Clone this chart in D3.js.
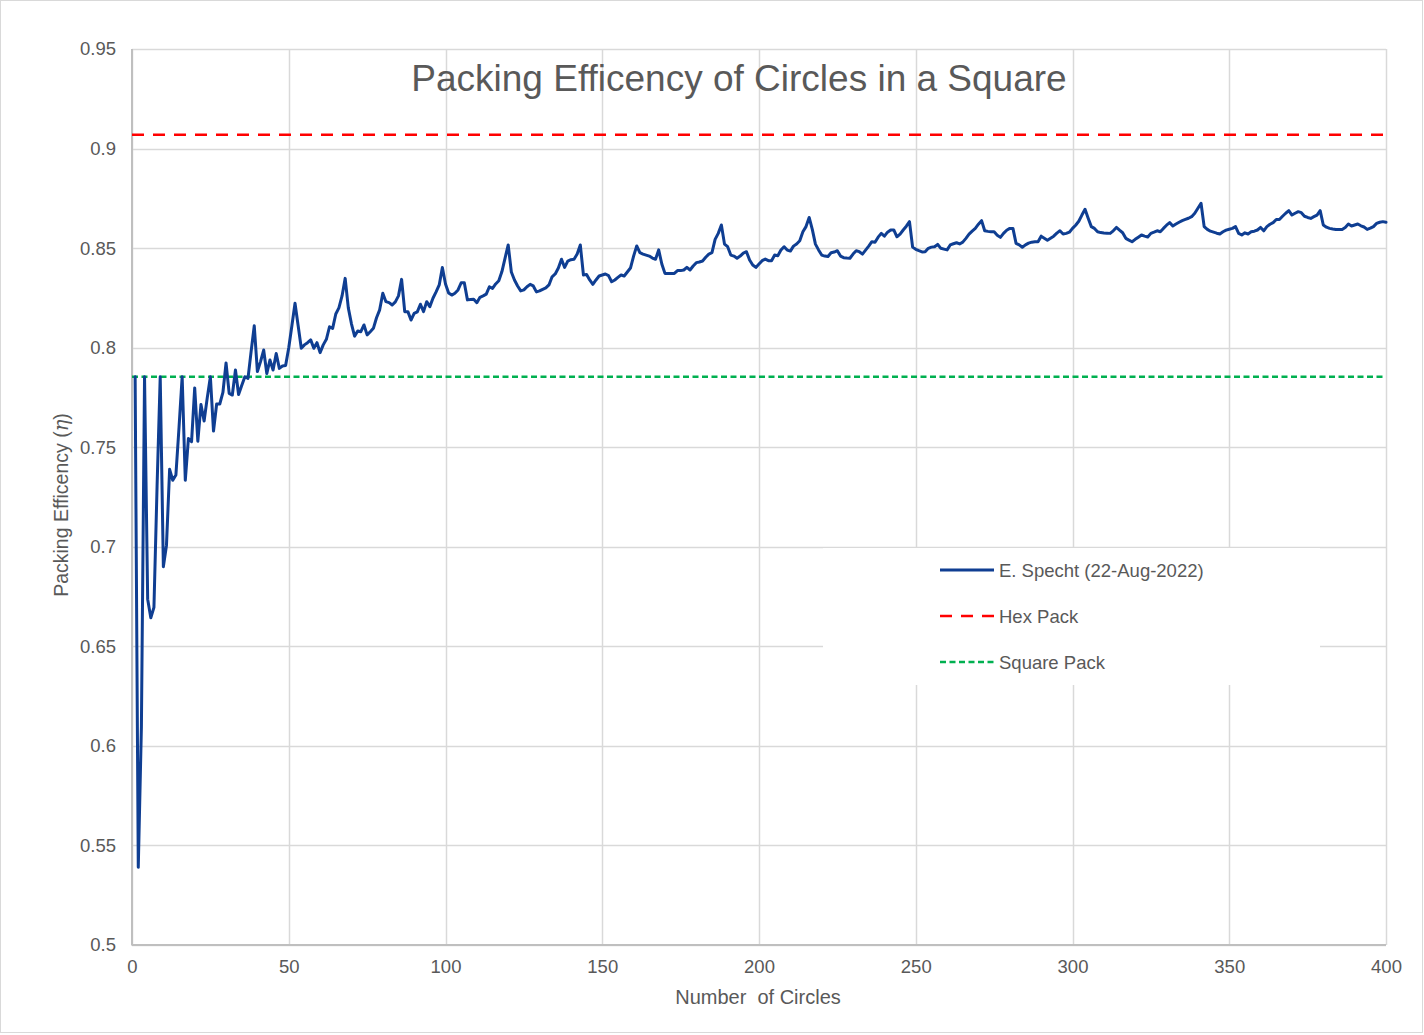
<!DOCTYPE html>
<html>
<head>
<meta charset="utf-8">
<script src="https://cdn.jsdelivr.net/npm/d3@7"></script>
<style>
  html, body { margin: 0; padding: 0; background: #fff; }
  svg { display: block; font-family: "Liberation Sans", Arial, sans-serif; }
</style>
</head>
<body>
<svg id="chart" width="1424" height="1035"></svg>
<script>
// ---- Data ----
const title = "Packing Efficency of Circles in a Square";
const xTitle = "Number  of Circles";
const yTitleMain = "Packing Efficency (";
const yTitleSym = "η";
const seriesNames = ["E. Specht (22-Aug-2022)", "Hex Pack", "Square Pack"];
const xTicks = [0, 50, 100, 150, 200, 250, 300, 350, 400];
const yTicks = [0.5, 0.55, 0.6, 0.65, 0.7, 0.75, 0.8, 0.85, 0.9, 0.95];
const hexPack = 0.9069;
const squarePack = 0.7854;
const circleCounts = d3.range(1, 401);
// packing efficiency for n = 1 .. 400
const specht = [
  0.7854,0.5390,0.6096,0.7854,0.6737,0.6643,0.6696,0.7306,0.7854,0.6900,
  0.7008,0.7389,0.7334,0.7360,0.7600,0.7854,0.7334,0.7544,0.7528,0.7798,
  0.7530,0.7715,0.7632,0.7748,0.7854,0.7581,0.7717,0.7717,0.7775,0.7923,
  0.7770,0.7762,0.7888,0.7765,0.7810,0.7854,0.7846,0.7981,0.8110,0.7880,
  0.7930,0.7988,0.7870,0.7938,0.7888,0.7971,0.7896,0.7908,0.7910,0.8000,
  0.8110,0.8223,0.8110,0.7997,0.8014,0.8025,0.8039,0.7997,0.8025,0.7975,
  0.8014,0.8042,0.8105,0.8097,0.8169,0.8200,0.8260,0.8348,0.8200,0.8120,
  0.8058,0.8084,0.8080,0.8114,0.8064,0.8080,0.8097,0.8150,0.8190,0.8273,
  0.8231,0.8226,0.8214,0.8230,0.8260,0.8343,0.8181,0.8181,0.8139,0.8172,
  0.8180,0.8218,0.8181,0.8231,0.8206,0.8248,0.8280,0.8315,0.8403,0.8320,
  0.8275,0.8264,0.8273,0.8290,0.8326,0.8326,0.8240,0.8242,0.8243,0.8226,
  0.8253,0.8260,0.8269,0.8306,0.8298,0.8320,0.8336,0.8382,0.8450,0.8516,
  0.8380,0.8340,0.8310,0.8285,0.8290,0.8306,0.8318,0.8310,0.8280,0.8285,
  0.8293,0.8300,0.8315,0.8356,0.8370,0.8400,0.8444,0.8403,0.8435,0.8442,
  0.8444,0.8470,0.8516,0.8365,0.8368,0.8340,0.8318,0.8340,0.8360,0.8365,
  0.8370,0.8362,0.8331,0.8340,0.8353,0.8365,0.8360,0.8380,0.8400,0.8460,
  0.8511,0.8477,0.8470,0.8465,0.8460,0.8450,0.8444,0.8491,0.8420,0.8373,
  0.8373,0.8373,0.8373,0.8387,0.8387,0.8390,0.8403,0.8390,0.8410,0.8427,
  0.8430,0.8435,0.8454,0.8470,0.8477,0.8544,0.8574,0.8616,0.8520,0.8507,
  0.8465,0.8460,0.8449,0.8460,0.8475,0.8482,0.8440,0.8415,0.8403,0.8420,
  0.8437,0.8445,0.8437,0.8437,0.8465,0.8462,0.8490,0.8507,0.8490,0.8485,
  0.8510,0.8521,0.8537,0.8582,0.8608,0.8654,0.8594,0.8520,0.8491,0.8465,
  0.8460,0.8458,0.8477,0.8480,0.8487,0.8460,0.8452,0.8450,0.8449,0.8470,
  0.8487,0.8482,0.8470,0.8490,0.8510,0.8532,0.8529,0.8555,0.8574,0.8560,
  0.8580,0.8591,0.8591,0.8557,0.8570,0.8591,0.8610,0.8633,0.8505,0.8494,
  0.8487,0.8481,0.8482,0.8499,0.8505,0.8507,0.8519,0.8499,0.8495,0.8491,
  0.8516,0.8522,0.8527,0.8521,0.8530,0.8549,0.8570,0.8585,0.8599,0.8620,
  0.8638,0.8587,0.8584,0.8582,0.8582,0.8565,0.8554,0.8574,0.8590,0.8599,
  0.8599,0.8524,0.8516,0.8504,0.8516,0.8525,0.8530,0.8532,0.8532,0.8560,
  0.8550,0.8540,0.8550,0.8560,0.8575,0.8587,0.8571,0.8574,0.8580,0.8599,
  0.8615,0.8635,0.8666,0.8695,0.8650,0.8608,0.8599,0.8582,0.8578,0.8576,
  0.8575,0.8574,0.8587,0.8604,0.8590,0.8577,0.8549,0.8540,0.8532,0.8544,
  0.8555,0.8566,0.8560,0.8556,0.8574,0.8580,0.8587,0.8582,0.8599,0.8615,
  0.8628,0.8611,0.8621,0.8630,0.8638,0.8644,0.8650,0.8658,0.8675,0.8700,
  0.8725,0.8608,0.8594,0.8585,0.8580,0.8575,0.8571,0.8582,0.8590,0.8595,
  0.8599,0.8608,0.8574,0.8566,0.8577,0.8571,0.8582,0.8585,0.8591,0.8604,
  0.8587,0.8608,0.8620,0.8628,0.8644,0.8644,0.8660,0.8675,0.8688,0.8666,
  0.8675,0.8683,0.8678,0.8660,0.8654,0.8649,0.8658,0.8666,0.8688,0.8616,
  0.8605,0.8599,0.8596,0.8594,0.8594,0.8594,0.8604,0.8621,0.8611,0.8616,
  0.8621,0.8612,0.8606,0.8594,0.8600,0.8608,0.8624,0.8630,0.8633,0.8630
];

// ---- Layout ----
const W = 1424, H = 1035;
const plot = { left: 132, right: 1386, top: 49, bottom: 945 };
const textColor = "#595959";
const gridColor = "#d9d9d9";
const axisColor = "#bfbfbf";
const blue = "#0f3e92";

const svg = d3.select("#chart");

// outer border
svg.append("rect").attr("x", 0.5).attr("y", 0.5).attr("width", W - 2).attr("height", H - 3)
  .attr("fill", "#fff").attr("stroke", "#d9d9d9").attr("stroke-width", 1);

const x = d3.scaleLinear().domain([0, 400]).range([plot.left, plot.right]);
const y = d3.scaleLinear().domain([0.5, 0.95]).range([plot.bottom, plot.top]);

// gridlines
const grid = svg.append("g");
grid.selectAll("line.h").data(yTicks).join("line")
  .attr("x1", plot.left).attr("x2", plot.right)
  .attr("y1", d => Math.round(y(d)) + 0.5).attr("y2", d => Math.round(y(d)) + 0.5)
  .attr("stroke", gridColor).attr("stroke-width", 1.5);
grid.selectAll("line.v").data(xTicks).join("line")
  .attr("y1", plot.top).attr("y2", plot.bottom)
  .attr("x1", d => Math.round(x(d)) + 0.5).attr("x2", d => Math.round(x(d)) + 0.5)
  .attr("stroke", gridColor).attr("stroke-width", 1.5);

// axes (using d3 axes for tick labels)
const xAxis = d3.axisBottom(x).tickValues(xTicks).tickSize(0).tickPadding(15).tickFormat(d3.format("d"));
const yAxis = d3.axisLeft(y).tickValues(yTicks).tickSize(0).tickPadding(16).tickFormat(d => String(+d.toFixed(2)));

const gx = svg.append("g").attr("transform", `translate(0,${plot.bottom})`).call(xAxis);
const gy = svg.append("g").attr("transform", `translate(${plot.left},0)`).call(yAxis);
[gx, gy].forEach(g => {
  g.select(".domain").remove();
  g.selectAll("text").attr("fill", textColor).attr("font-size", 18.5)
    .attr("font-family", "'Liberation Sans', Arial, sans-serif");
});

svg.append("line").attr("x1", plot.left).attr("x2", plot.left).attr("y1", plot.top).attr("y2", plot.bottom + 0.5)
  .attr("stroke", axisColor).attr("stroke-width", 2);
svg.append("line").attr("x1", plot.left).attr("x2", plot.right).attr("y1", plot.bottom).attr("y2", plot.bottom)
  .attr("stroke", axisColor).attr("stroke-width", 2);

// reference lines
svg.append("line").attr("x1", plot.left).attr("x2", plot.right)
  .attr("y1", y(hexPack)).attr("y2", y(hexPack))
  .attr("stroke", "#ff0000").attr("stroke-width", 2.5).attr("stroke-dasharray", "12,9");
svg.append("line").attr("x1", plot.left).attr("x2", plot.right)
  .attr("y1", y(squarePack)).attr("y2", y(squarePack))
  .attr("stroke", "#00b050").attr("stroke-width", 2.5).attr("stroke-dasharray", "6,3.5");

// main series
const line = d3.line().x((d, i) => x(circleCounts[i])).y(d => y(d));
svg.append("path").datum(specht).attr("d", line)
  .attr("fill", "none").attr("stroke", blue).attr("stroke-width", 3)
  .attr("stroke-linejoin", "round").attr("stroke-linecap", "round");

// title
svg.append("text").attr("x", 739).attr("y", 91)
  .attr("text-anchor", "middle").attr("font-size", 37).attr("fill", textColor)
  .text(title);

// axis titles
svg.append("text").attr("x", 758).attr("y", 1004)
  .attr("text-anchor", "middle").attr("font-size", 20).attr("fill", textColor)
  .style("white-space", "pre").attr("xml:space", "preserve").text(xTitle);

const yt = svg.append("text").attr("transform", `translate(68,${(plot.top + plot.bottom) / 2 + 8}) rotate(-90)`)
  .attr("text-anchor", "middle").attr("font-size", 19.5).attr("fill", textColor);
yt.append("tspan").text(yTitleMain);
yt.append("tspan").attr("font-style", "italic").attr("font-family", "'DejaVu Serif', serif").text(yTitleSym);
yt.append("tspan").text(")");

// legend
const lg = svg.append("g");
lg.append("rect").attr("x", 823).attr("y", 548).attr("width", 497).attr("height", 137).attr("fill", "#fff");
const legendItems = [
  { name: seriesNames[0], color: blue, dash: null, width: 3 },
  { name: seriesNames[1], color: "#ff0000", dash: "12,9", width: 2.5 },
  { name: seriesNames[2], color: "#00b050", dash: "6,3.5", width: 2.5 }
];
const legendY = [570, 616, 662];
legendItems.forEach((it, i) => {
  const l = lg.append("line").attr("x1", 940).attr("x2", 994)
    .attr("y1", legendY[i]).attr("y2", legendY[i])
    .attr("stroke", it.color).attr("stroke-width", it.width);
  if (it.dash) l.attr("stroke-dasharray", it.dash);
  lg.append("text").attr("x", 999).attr("y", legendY[i] + 6.5)
    .attr("font-size", 18.5).attr("fill", textColor).text(it.name);
});
</script>
</body>
</html>
